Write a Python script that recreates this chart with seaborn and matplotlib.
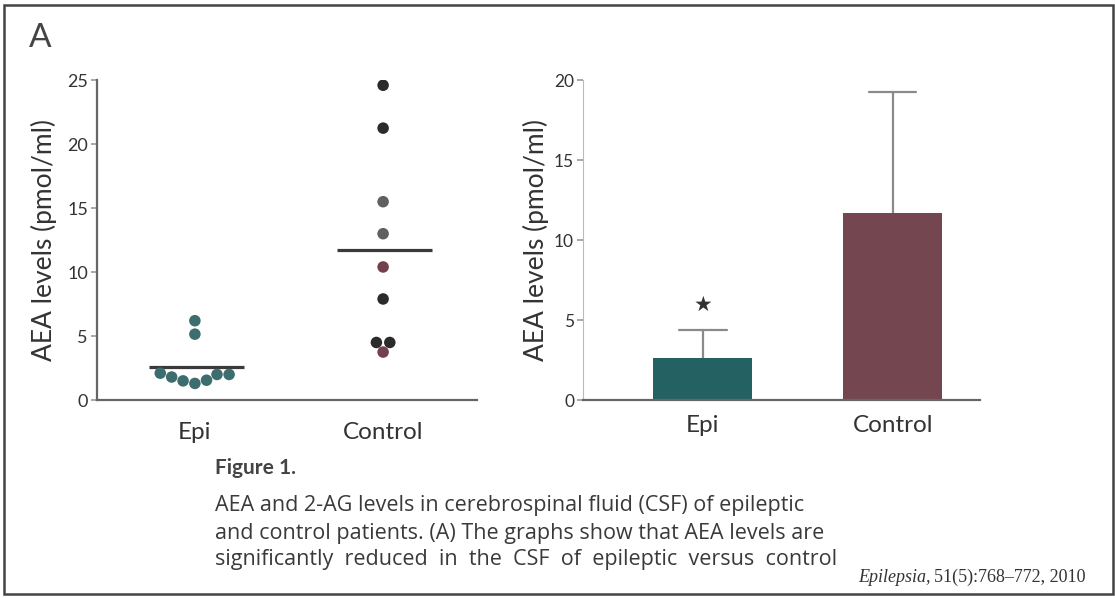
import matplotlib
matplotlib.use("Agg")
import matplotlib.pyplot as plt
import seaborn as sns
import pandas as pd
import numpy as np

# AEA levels (pmol/ml) in CSF, one value per patient
epi_values = [6.2, 5.15, 2.0, 1.55, 2.0, 1.3, 2.1, 1.5, 1.8]
control_values = [24.6, 21.25, 15.5, 13.0, 10.4, 7.9, 4.5, 4.5, 3.75]
epi_tones = ["teal"] * 9
control_tones = ["dark", "dark", "gray", "gray", "maroon", "dark", "dark", "dark", "maroon"]
groups = ["Epi", "Control"]

tone_colors = {"teal": "#3e6d70", "dark": "#2b2b2b", "gray": "#606060", "maroon": "#74404b"}
bar_colors = ["#1a6b6d", "#7b3f4c"]

df = pd.DataFrame({
    "group": ["Epi"] * len(epi_values) + ["Control"] * len(control_values),
    "value": epi_values + control_values,
    "tone": epi_tones + control_tones,
})

sns.set_theme(style="white")
plt.rcParams["font.family"] = ["Lato", "DejaVu Sans"]
text_col = "#333333"
axis_col = "#666666"

fig = plt.figure(figsize=(11.15, 5.98), dpi=100)
fig.patch.set_facecolor("white")

# ---- left panel: individual values with group means ----
ax1 = fig.add_axes([0.087, 0.331, 0.341, 0.535])
sns.swarmplot(data=df, x="group", y="value", hue="tone", palette=tone_colors,
              order=groups, size=8.3, legend=False, ax=ax1, zorder=3)
for i, g in enumerate(groups):
    m = df.loc[df.group == g, "value"].mean()
    ax1.plot([i - 0.245, i + 0.26], [m, m], color="#3a3a3a", lw=2.3, zorder=2,
             solid_capstyle="butt")
ax1.set_xlim(-0.52, 1.5)
ax1.set_ylim(0, 25)
ax1.set_yticks([0, 5, 10, 15, 20, 25])
ax1.set_xlabel("")
ax1.set_ylabel("AEA levels (pmol/ml)", fontsize=19, color=text_col)
ax1.yaxis.set_label_coords(-0.105, 0.5)

# ---- right panel: mean ± SD bars ----
ax2 = fig.add_axes([0.523, 0.331, 0.356, 0.535])
sns.barplot(data=df, x="group", y="value", hue="group", palette=bar_colors,
            order=groups, errorbar="sd", capsize=0.25, width=0.52,
            err_kws={"color": "#8a8a8a", "linewidth": 1.6},
            legend=False, ax=ax2)
for line in ax2.lines:
    line.set_zorder(0.5)
for patch in ax2.patches:
    patch.set_zorder(2)
    patch.set_edgecolor("none")
epi_sd = np.std(epi_values, ddof=1)
ax2.text(0, np.mean(epi_values) + epi_sd + 1.55, "★", ha="center", va="center",
         fontsize=15, color="#333333", family="DejaVu Sans")
ax2.set_xlim(-0.63, 1.46)
ax2.set_ylim(0, 20)
ax2.set_yticks([0, 5, 10, 15, 20])
ax2.set_xlabel("")
ax2.set_ylabel("AEA levels (pmol/ml)", fontsize=19, color=text_col)
ax2.yaxis.set_label_coords(-0.085, 0.5)

for ax, pad, ysize in ((ax1, 10, 13), (ax2, 5, 12.5)):
    for side in ("top", "right"):
        ax.spines[side].set_visible(False)
    for side in ("left", "bottom"):
        ax.spines[side].set_color(axis_col)
        ax.spines[side].set_linewidth(1.6)
    ax.tick_params(axis="y", left=True, length=4, width=1.2, color="#999999",
                   labelsize=ysize, labelcolor=text_col, pad=2.5)
    ax.tick_params(axis="x", bottom=False, labelsize=17.5, labelcolor=text_col, pad=pad)
    ax.set_facecolor("white")
ax2.spines["left"].set_color("#bbbbbb")
ax2.spines["left"].set_linewidth(0.8)

# ---- panel letter and caption ----
fig.text(40 / 1115, 1 - 38 / 598, "A", fontsize=24, color="#444444",
         ha="center", va="center")
fig.text(215 / 1115, 1 - 468 / 598, "Figure 1.", fontsize=15, fontweight="bold",
         color="#444444", ha="left", va="center")
caption_lines = [
    "AEA and 2-AG levels in cerebrospinal fluid (CSF) of epileptic",
    "and control patients. (A) The graphs show that AEA levels are",
    "significantly  reduced  in  the  CSF  of  epileptic  versus  control",
]
for k, line in enumerate(caption_lines):
    fig.text(215 / 1115, 1 - (506 + 27 * k) / 598, line, fontsize=15.5,
             family=["Open Sans", "DejaVu Sans"],
             color="#3a3a3a", ha="left", va="center")
fig.text(858 / 1115, 1 - 577 / 598, "Epilepsia,", fontsize=13, style="italic",
         family="Liberation Serif", color="#333333", ha="left", va="center")
fig.text(934 / 1115, 1 - 577 / 598, "51(5):768–772, 2010", fontsize=13,
         family="Liberation Serif", color="#333333", ha="left", va="center")

# outer frame
fig.add_artist(plt.Rectangle((0.004, 0.006), 0.994, 0.986, transform=fig.transFigure,
                             fill=False, edgecolor="#444444", lw=1.8))

fig.savefig("out.png", dpi=100, facecolor="white")
